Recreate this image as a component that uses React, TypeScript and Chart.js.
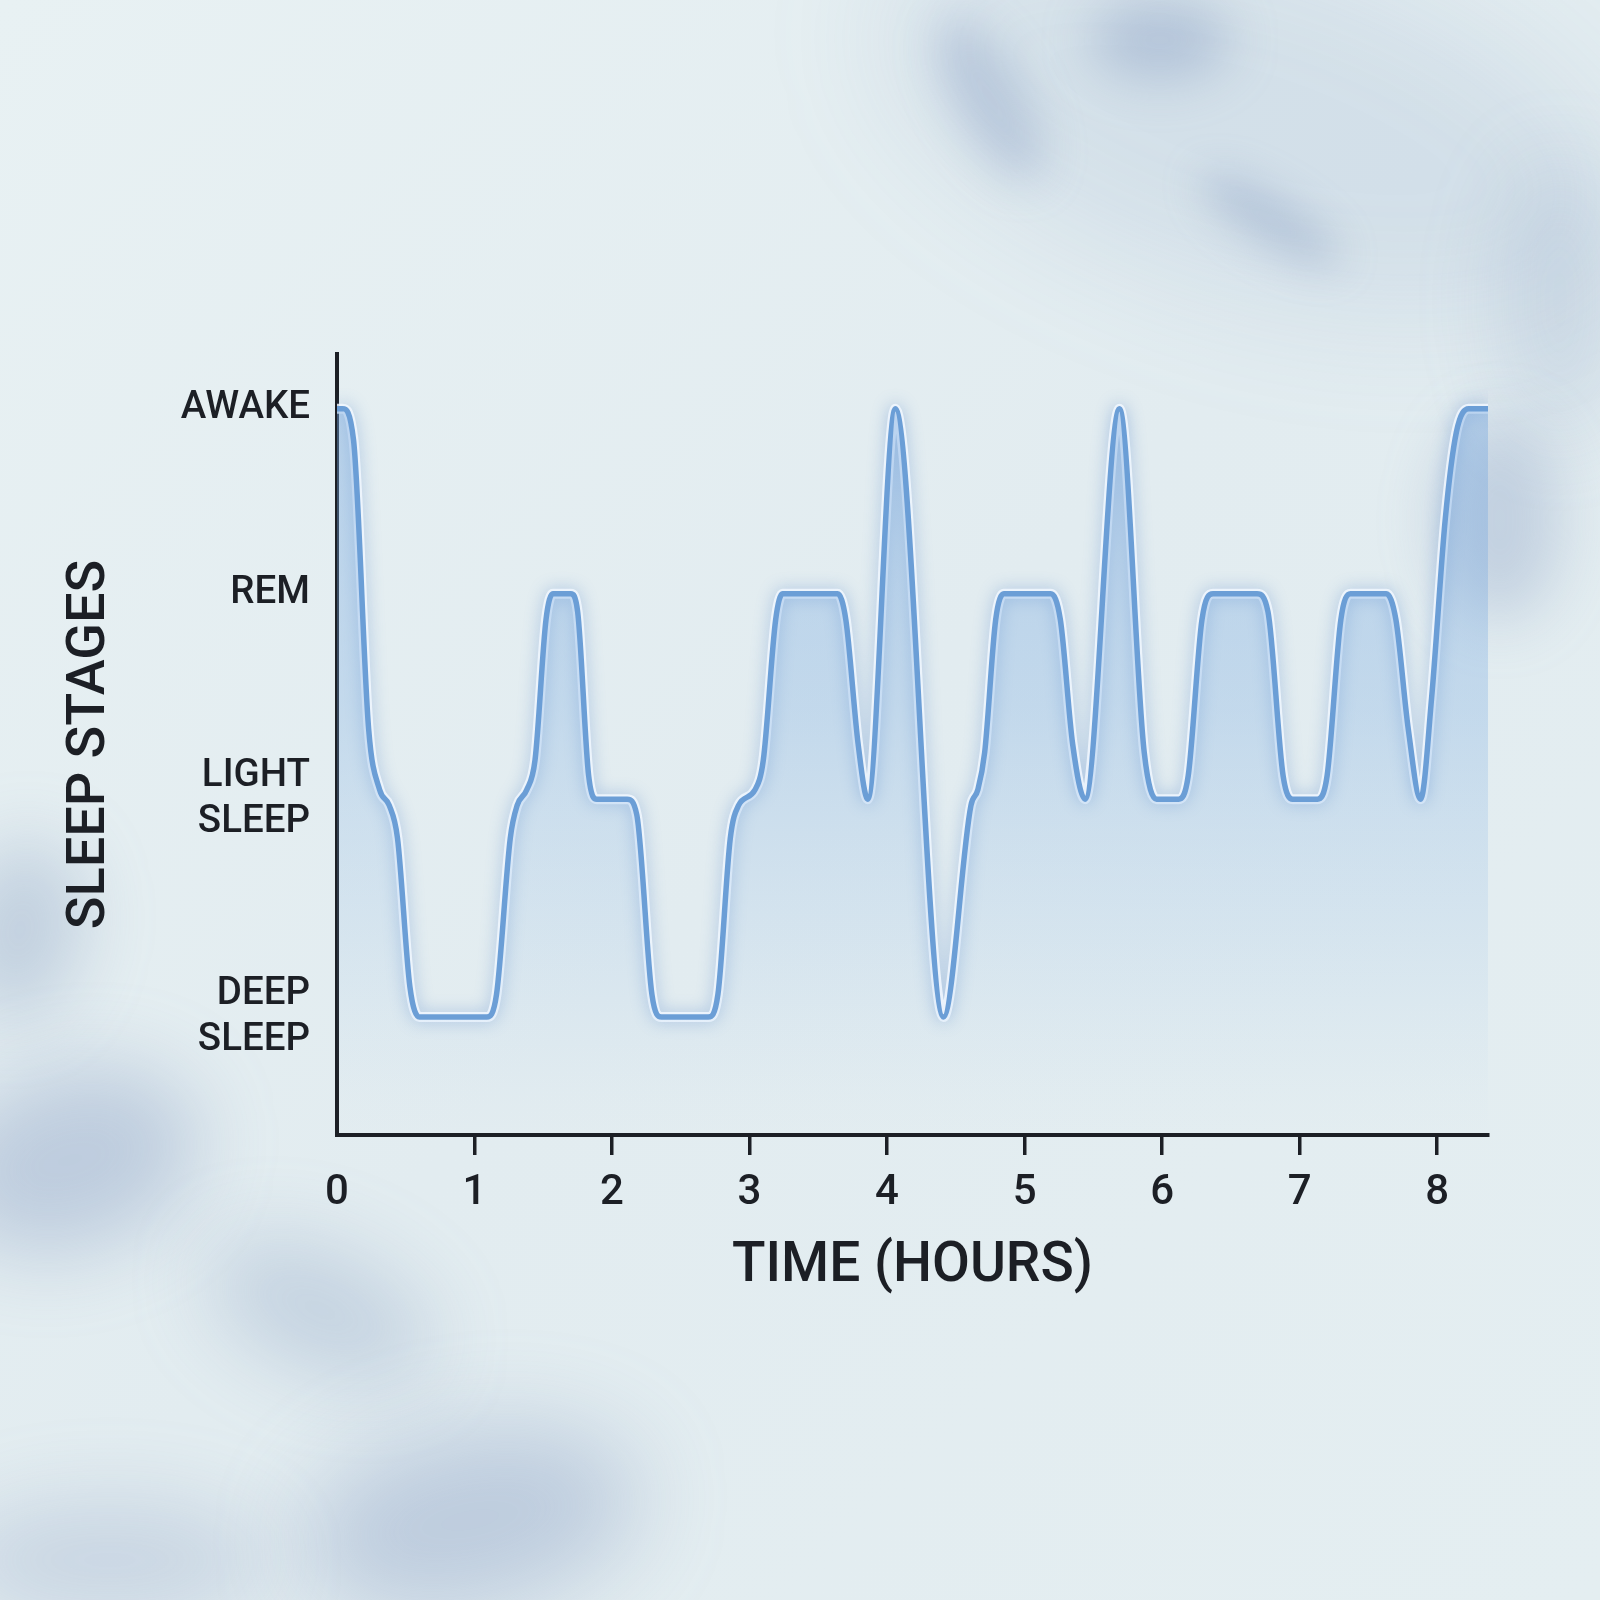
import { useEffect, useRef } from "react";
import { Chart, registerables } from "chart.js";

Chart.register(...registerables);

// Sleep stage names (bottom to top) and their vertical levels on a 0–100 scale
const STAGE_NAMES: string[][] = [["DEEP", "SLEEP"], ["LIGHT", "SLEEP"], ["REM"], ["AWAKE"]];
const STAGE_LEVELS = [15.1, 43.0, 69.3, 93.0];

// Hour ticks on the time axis
const HOUR_TICKS = [0, 1, 2, 3, 4, 5, 6, 7, 8];
const HOUR_MAX = 8.37;

// Hypnogram trace: time in hours and stage level (plateaus plus points along each transition)
const HOURS = [
  0, 0.04, 0.12, 0.23, 0.31, 0.38, 0.44, 0.53, 0.6, 1.09, 1.16, 1.26, 1.31, 1.38, 1.44, 1.52,
  1.57, 1.7, 1.75, 1.83, 1.89, 2.11, 2.18, 2.29, 2.36, 2.7, 2.77, 2.86, 2.92, 3.04, 3.1, 3.19,
  3.24, 3.64, 3.7, 3.79, 3.86, 4.06, 4.41, 4.61, 4.66, 4.71, 4.79, 4.85, 5.19, 5.26, 5.35,
  5.44, 5.69, 5.87, 5.96, 6.12, 6.19, 6.29, 6.37, 6.69, 6.77, 6.88, 6.95, 7.13, 7.2, 7.3,
  7.37, 7.63, 7.7, 7.79, 7.88, 7.96, 8.06, 8.14, 8.23, 8.37,
];
const STAGE_VALUES = [
  93, 93, 89, 52, 44.2, 42.2, 38, 19, 15.1, 15.1, 18, 38, 42.2, 44.2, 48, 66,
  69.3, 69.3, 67, 46, 43, 43, 41, 18, 15.1, 15.1, 18, 38, 42.2, 44.2, 48, 66,
  69.3, 69.3, 66, 50, 43, 93, 15.1, 42.2, 44.2, 49, 66, 69.3, 69.3, 66, 50,
  43, 93, 49, 43, 43, 46, 66, 69.3, 69.3, 67, 46, 43, 43, 46, 66,
  69.3, 69.3, 66, 52, 43, 56, 79, 90, 93, 93,
];

const FONT = 'Roboto, "Noto Sans", "DejaVu Sans", sans-serif';
const INK = "#1c1f25";

// Soft, misty backdrop painted behind everything
const backdrop = {
  id: "backdrop",
  beforeDraw(chart: Chart) {
    const { ctx, width, height } = chart;
    ctx.save();
    const base = ctx.createLinearGradient(0, 0, width, height);
    base.addColorStop(0, "#e8f1f3");
    base.addColorStop(0.5, "#e2ecf0");
    base.addColorStop(1, "#e4eef1");
    ctx.fillStyle = base;
    ctx.fillRect(0, 0, width, height);

    const blobs: [number, number, number, number, number, number, number][] = [
      // x, y, rx, ry, rotation, alpha, blur
      [1250, 120, 380, 170, 0.3, 0.13, 60],
      [1160, 40, 70, 40, 0, 0.32, 25],
      [990, 100, 35, 90, -0.5, 0.28, 22],
      [1270, 220, 80, 22, 0.55, 0.32, 20],
      [1560, 300, 60, 140, 0, 0.18, 40],
      [1500, 520, 60, 100, 0, 0.28, 30],
      [20, 930, 60, 90, 0.2, 0.3, 35],
      [70, 1160, 130, 90, -0.3, 0.32, 40],
      [320, 1310, 120, 60, 0.4, 0.26, 40],
      [470, 1520, 170, 90, -0.2, 0.32, 45],
      [110, 1560, 160, 60, 0, 0.22, 40],
    ];
    for (const [x, y, rx, ry, rot, a, b] of blobs) {
      ctx.filter = `blur(${b}px)`;
      ctx.fillStyle = `rgba(112, 138, 182, ${a})`;
      ctx.beginPath();
      ctx.ellipse(x, y, rx, ry, rot, 0, Math.PI * 2);
      ctx.fill();
    }
    ctx.filter = "none";
    ctx.restore();
  },
};

// Soft blue glow under the halo stroke
const glow = {
  id: "glow",
  beforeDatasetDraw(chart: Chart, args: { index: number }) {
    if (args.index === 1) {
      chart.ctx.save();
      chart.ctx.shadowColor = "rgba(80, 130, 200, 0.45)";
      chart.ctx.shadowBlur = 16;
    }
  },
  afterDatasetDraw(chart: Chart, args: { index: number }) {
    if (args.index === 1) chart.ctx.restore();
  },
};

export default function App() {
  const canvasRef = useRef<HTMLCanvasElement | null>(null);

  useEffect(() => {
    document.body.style.margin = "0";
    const canvas = canvasRef.current;
    if (!canvas) return;
    const points = HOURS.map((h, i) => ({ x: h, y: STAGE_VALUES[i] }));

    const chart = new Chart(canvas, {
      type: "line",
      data: {
        datasets: [
          {
            data: points,
            borderColor: "#6b9ed6",
            borderWidth: 5.5,
            pointRadius: 0,
            cubicInterpolationMode: "monotone",
            fill: "start",
            backgroundColor: (c: any) => {
              const area = c.chart.chartArea;
              if (!area) return "rgba(120,170,225,0.25)";
              const g = c.chart.ctx.createLinearGradient(0, area.top, 0, area.bottom);
              g.addColorStop(0, "rgba(115, 165, 222, 0.42)");
              g.addColorStop(0.45, "rgba(120, 170, 225, 0.30)");
              g.addColorStop(0.75, "rgba(135, 180, 228, 0.14)");
              g.addColorStop(0.95, "rgba(150, 190, 232, 0.02)");
              g.addColorStop(1, "rgba(150, 190, 232, 0)");
              return g;
            },
          },
          {
            data: points,
            borderColor: "rgba(242, 248, 255, 0.85)",
            borderWidth: 10,
            pointRadius: 0,
            cubicInterpolationMode: "monotone",
            fill: false,
          },
        ],
      },
      options: {
        animation: false,
        responsive: false,
        events: [],
        layout: { padding: { top: 354, right: 112, bottom: 300, left: 0 } },
        plugins: { legend: { display: false }, tooltip: { enabled: false } },
        scales: {
          x: {
            type: "linear",
            min: 0,
            max: HOUR_MAX,
            afterBuildTicks: (s: any) => {
              s.ticks = HOUR_TICKS.map((v) => ({ value: v }));
            },
            afterFit: (s: any) => {
              s.height = 165;
            },
            border: { display: true, color: INK, width: 4 },
            grid: {
              display: true,
              drawOnChartArea: false,
              drawTicks: true,
              tickLength: 20,
              lineWidth: 3.5,
              color: (c: any) => (c.index === 0 ? "rgba(0,0,0,0)" : INK),
            },
            ticks: {
              color: INK,
              padding: 13,
              maxRotation: 0,
              font: { family: FONT, size: 42, weight: 500 },
              callback: (v: any) => String(v),
            },
            title: {
              display: true,
              text: "TIME (HOURS)",
              color: INK,
              padding: { top: 0, bottom: 0 },
              font: { family: FONT, size: 55, weight: 500 },
            },
          },
          y: {
            type: "linear",
            min: 0,
            max: 100,
            afterBuildTicks: (s: any) => {
              s.ticks = STAGE_LEVELS.map((v) => ({ value: v }));
            },
            afterFit: (s: any) => {
              s.width = 337;
            },
            border: { display: true, color: INK, width: 4 },
            grid: { display: false },
            ticks: {
              color: INK,
              padding: 19,
              font: { family: FONT, size: 38.5, weight: 500, lineHeight: 1.2 },
              callback: (_v: any, i: number) => STAGE_NAMES[i],
            },
            title: {
              display: true,
              text: "SLEEP STAGES",
              color: INK,
              padding: { top: 58, bottom: 0 },
              font: { family: FONT, size: 54, weight: 500 },
            },
          },
        },
      },
      plugins: [backdrop, glow],
    });

    return () => chart.destroy();
  }, []);

  return <canvas ref={canvasRef} width={1600} height={1600} style={{ display: "block" }} />;
}
